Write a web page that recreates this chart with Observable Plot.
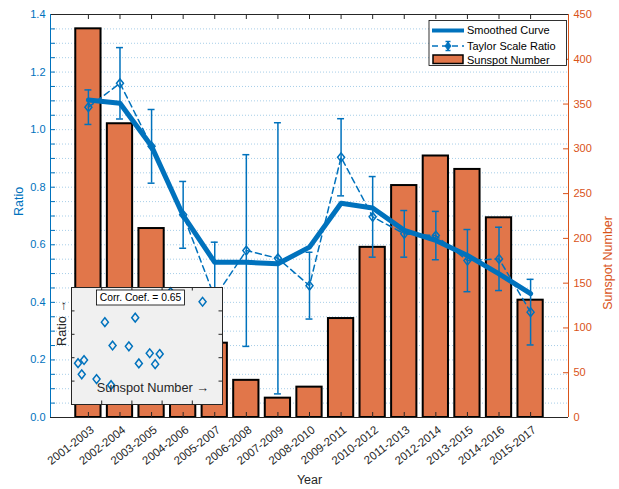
<!DOCTYPE html>
<html>
<head>
<meta charset="utf-8">
<script src="https://cdn.jsdelivr.net/npm/d3@7"></script>
<script src="https://cdn.jsdelivr.net/npm/@observablehq/plot@0.6"></script>
<style>
  html, body { margin: 0; padding: 0; background: white; }
  #wrap { position: relative; width: 619px; height: 489px; }
  #inset { position: absolute; left: 50.7px; top: 287.3px; }
</style>
</head>
<body>
<div id="wrap"><div id="main"></div><div id="inset"></div></div>
<script>
// ---- data ----
const categories = ["2001-2003","2002-2004","2003-2005","2004-2006","2005-2007","2006-2008","2007-2009","2008-2010","2009-2011","2010-2012","2011-2013","2012-2014","2013-2015","2014-2016","2015-2017"];
const sunspot = [434, 328, 211, 136, 83, 41.5, 21.6, 33.9, 110.5, 190, 259, 292, 277, 223, 131];
const ratio = [1.078, 1.161, 0.942, 0.704, 0.417, 0.58, 0.553, 0.458, 0.904, 0.697, 0.638, 0.632, 0.545, 0.551, 0.366];
const ratioErr = [0.06, 0.124, 0.128, 0.116, 0.192, 0.333, 0.471, 0.116, 0.134, 0.14, 0.081, 0.084, 0.108, 0.11, 0.114];
const smoothed = [1.103, 1.092, 0.942, 0.702, 0.539, 0.539, 0.534, 0.592, 0.744, 0.728, 0.650, 0.615, 0.563, 0.499, 0.430];
const ratioTicks = [0, 0.2, 0.4, 0.6, 0.8, 1, 1.2, 1.4];
const sunspotTicks = [0, 50, 100, 150, 200, 250, 300, 350, 400, 450];
const insetXTicks = [100, 200, 300, 400];
const insetYTicks = [0.4, 0.6, 0.8, 1.0];
const corrLabel = "Corr. Coef. = 0.65";
const legendLabels = ["Smoothed Curve", "Taylor Scale Ratio", "Sunspot Number"];

// ---- styling ----
const BLUE = "#0072BD";
const ORANGE = "#D95319";
const BARFILL = "#E1764A";
const DARK = "#262626";
const FONT = "'Liberation Sans', Arial, Helvetica, sans-serif";
const K = 1.4 / 450; // sunspot -> ratio axis
const rows = categories.map((c, k) => ({i: k + 1, cat: c, sunspot: sunspot[k], ratio: ratio[k], err: ratioErr[k], smooth: smoothed[k]}));
const minorTicks = d3.range(0, 29).map(k => +(k * 0.05).toFixed(2));
const gridTicks = minorTicks.filter(v => v > 0 && v < 1.4);

const diamondSym = {
  draw(ctx, size) {
    const r = Math.sqrt(size / Math.PI);
    ctx.moveTo(0, -1.25 * r);
    ctx.lineTo(r, 0);
    ctx.lineTo(0, 1.25 * r);
    ctx.lineTo(-r, 0);
    ctx.closePath();
  }
};

const FW = 619 - 50 - 51, FH = 489 - 14 - 72;

const main = Plot.plot({
  width: 619, height: 489,
  marginLeft: 50, marginRight: 51, marginTop: 14, marginBottom: 72,
  x: {type: "linear", domain: [-0.2, 16.2]},
  y: {domain: [0, 1.4]},
  style: {fontFamily: FONT, fontSize: "10.7px", background: "white", overflow: "visible"},
  marks: [
    Plot.ruleY(gridTicks, {stroke: BLUE, strokeOpacity: 0.35, strokeDasharray: "1,2"}),
    Plot.rect(rows, {x1: d => d.i - 0.4, x2: d => d.i + 0.4, y1: 0, y2: d => d.sunspot * K, fill: BARFILL, stroke: "black", strokeWidth: 2}),
    Plot.ruleX(rows, {x: "i", insetTop: FH - 5, stroke: DARK}),
    Plot.ruleX(rows, {x: "i", insetBottom: FH - 5, stroke: DARK}),
    Plot.ruleX(rows, {x: "i", y1: d => d.ratio - d.err, y2: d => d.ratio + d.err, stroke: BLUE, strokeWidth: 1.5}),
    Plot.ruleY(rows, {y: d => d.ratio + d.err, x1: d => d.i - 0.11, x2: d => d.i + 0.11, stroke: BLUE, strokeWidth: 1.5}),
    Plot.ruleY(rows, {y: d => d.ratio - d.err, x1: d => d.i - 0.11, x2: d => d.i + 0.11, stroke: BLUE, strokeWidth: 1.5}),
    Plot.line(rows, {x: "i", y: "ratio", stroke: BLUE, strokeWidth: 1.5, strokeDasharray: "6,4"}),
    Plot.dot(rows, {x: "i", y: "ratio", symbol: diamondSym, r: 3.5, stroke: BLUE, strokeWidth: 1.5, fill: "none"}),
    Plot.line(rows, {x: "i", y: "smooth", stroke: BLUE, strokeWidth: 5, strokeLinejoin: "round"}),
    Plot.ruleY(minorTicks, {insetRight: FW - 5, stroke: BLUE}),
    Plot.ruleY(sunspotTicks.map(v => v * K), {insetLeft: FW - 5, stroke: ORANGE}),
    Plot.ruleY([0], {stroke: DARK}),
    Plot.ruleY([1.4], {stroke: DARK}),
    Plot.ruleX([-0.2], {stroke: BLUE}),
    Plot.ruleX([16.2], {stroke: ORANGE}),
    Plot.axisY(ratioTicks, {anchor: "left", tickSize: 0, tickPadding: 5, color: BLUE, label: null, fontSize: 11}),
    Plot.axisY(sunspotTicks.map(v => v * K), {anchor: "right", tickSize: 0, tickPadding: 5, color: ORANGE, label: null, fontSize: 11, tickFormat: d => String(Math.round(d / K))}),
    Plot.axisX(rows.map(d => d.i), {anchor: "bottom", tickSize: 0, tickPadding: 11, dx: 4, tickRotate: -38, fontSize: 11.5, tickFormat: i => categories[i - 1], label: null, color: DARK}),
    Plot.text(["Ratio"], {text: d => d, frameAnchor: "left", dx: -32, rotate: -90, fill: BLUE, fontSize: 12.5}),
    Plot.text(["Sunspot Number"], {text: d => d, frameAnchor: "right", dx: 39, rotate: -90, fill: ORANGE, fontSize: 12.5}),
    Plot.text(["Year"], {text: d => d, frameAnchor: "bottom", dy: 66, fill: DARK, fontSize: 12.5})
  ]
});
document.getElementById("main").appendChild(main);

// legend
const lg = d3.select(main).append("g").attr("font-family", FONT).attr("font-size", 11).attr("fill", "black").attr("text-anchor", "start");
lg.append("rect").attr("x", 429).attr("y", 20.5).attr("width", 137.5).attr("height", 45).attr("fill", "white").attr("stroke", "black").attr("stroke-width", 0.8);
lg.append("line").attr("x1", 432).attr("x2", 464).attr("y1", 30.5).attr("y2", 30.5).attr("stroke", BLUE).attr("stroke-width", 4);
lg.append("line").attr("x1", 432).attr("x2", 464).attr("y1", 46).attr("y2", 46).attr("stroke", BLUE).attr("stroke-width", 1.5).attr("stroke-dasharray", "6,4");
lg.append("line").attr("x1", 448).attr("x2", 448).attr("y1", 41.5).attr("y2", 50.5).attr("stroke", BLUE).attr("stroke-width", 1.5);
lg.append("line").attr("x1", 445.5).attr("x2", 450.5).attr("y1", 41.5).attr("y2", 41.5).attr("stroke", BLUE).attr("stroke-width", 1.5);
lg.append("line").attr("x1", 445.5).attr("x2", 450.5).attr("y1", 50.5).attr("y2", 50.5).attr("stroke", BLUE).attr("stroke-width", 1.5);
lg.append("path").attr("d", "M448,42 L451,46 L448,50 L445,46 Z").attr("fill", BLUE).attr("stroke", BLUE).attr("stroke-width", 1);
lg.append("rect").attr("x", 433).attr("y", 55).attr("width", 30).attr("height", 8.5).attr("fill", BARFILL).attr("stroke", "black").attr("stroke-width", 1.5);
[30.5, 46.3, 59.7].forEach((y, k) => {
  lg.append("text").attr("x", 467).attr("y", y).attr("dy", "0.35em").attr("text-anchor", "start").text(legendLabels[k]);
});

// inset
const IW = 151, IH = 117;
const inset = Plot.plot({
  width: IW + 20, height: IH,
  marginLeft: 20, marginRight: 0, marginTop: 0, marginBottom: 0,
  x: {domain: [0, 500], axis: null},
  y: {domain: [0.2, 1.2], axis: null},
  style: {fontFamily: FONT, fontSize: "10px", background: "transparent", overflow: "visible"},
  marks: [
    Plot.frame({fill: "#f0f0f0", stroke: "none"}),
    Plot.ruleY(insetYTicks, {insetRight: IW - 3.5, stroke: DARK}),
    Plot.ruleY(insetYTicks, {insetLeft: IW - 3.5, stroke: DARK}),
    Plot.ruleX(insetXTicks, {insetBottom: IH - 3.5, stroke: DARK}),
    Plot.ruleX(insetXTicks, {insetTop: IH - 3.5, stroke: DARK}),
    Plot.dot(rows, {x: "sunspot", y: "ratio", symbol: diamondSym, r: 3.5, stroke: BLUE, strokeWidth: 1.5, fill: "none"}),
    Plot.text(["Sunspot Number \u2192"], {text: d => d, frameAnchor: "bottom", dy: -13, dx: 6, fill: DARK, fontSize: 12.8}),
    Plot.text(["Ratio \u2192"], {text: d => d, frameAnchor: "left", dx: -10, rotate: -90, fill: DARK, fontSize: 12.8}),
    Plot.frame({stroke: DARK, strokeWidth: 1})
  ]
});
document.getElementById("inset").appendChild(inset);
const ib = d3.select(inset).append("g").attr("font-family", FONT);
ib.append("rect").attr("x", 45.5).attr("y", 3).attr("width", 88).attr("height", 15).attr("fill", "white").attr("stroke", "black").attr("stroke-width", 0.8);
ib.append("text").attr("x", 89.5).attr("y", 10.5).attr("dy", "0.35em").attr("text-anchor", "middle").attr("font-size", 10.3).attr("fill", "black").text(corrLabel);
</script>
</body>
</html>
